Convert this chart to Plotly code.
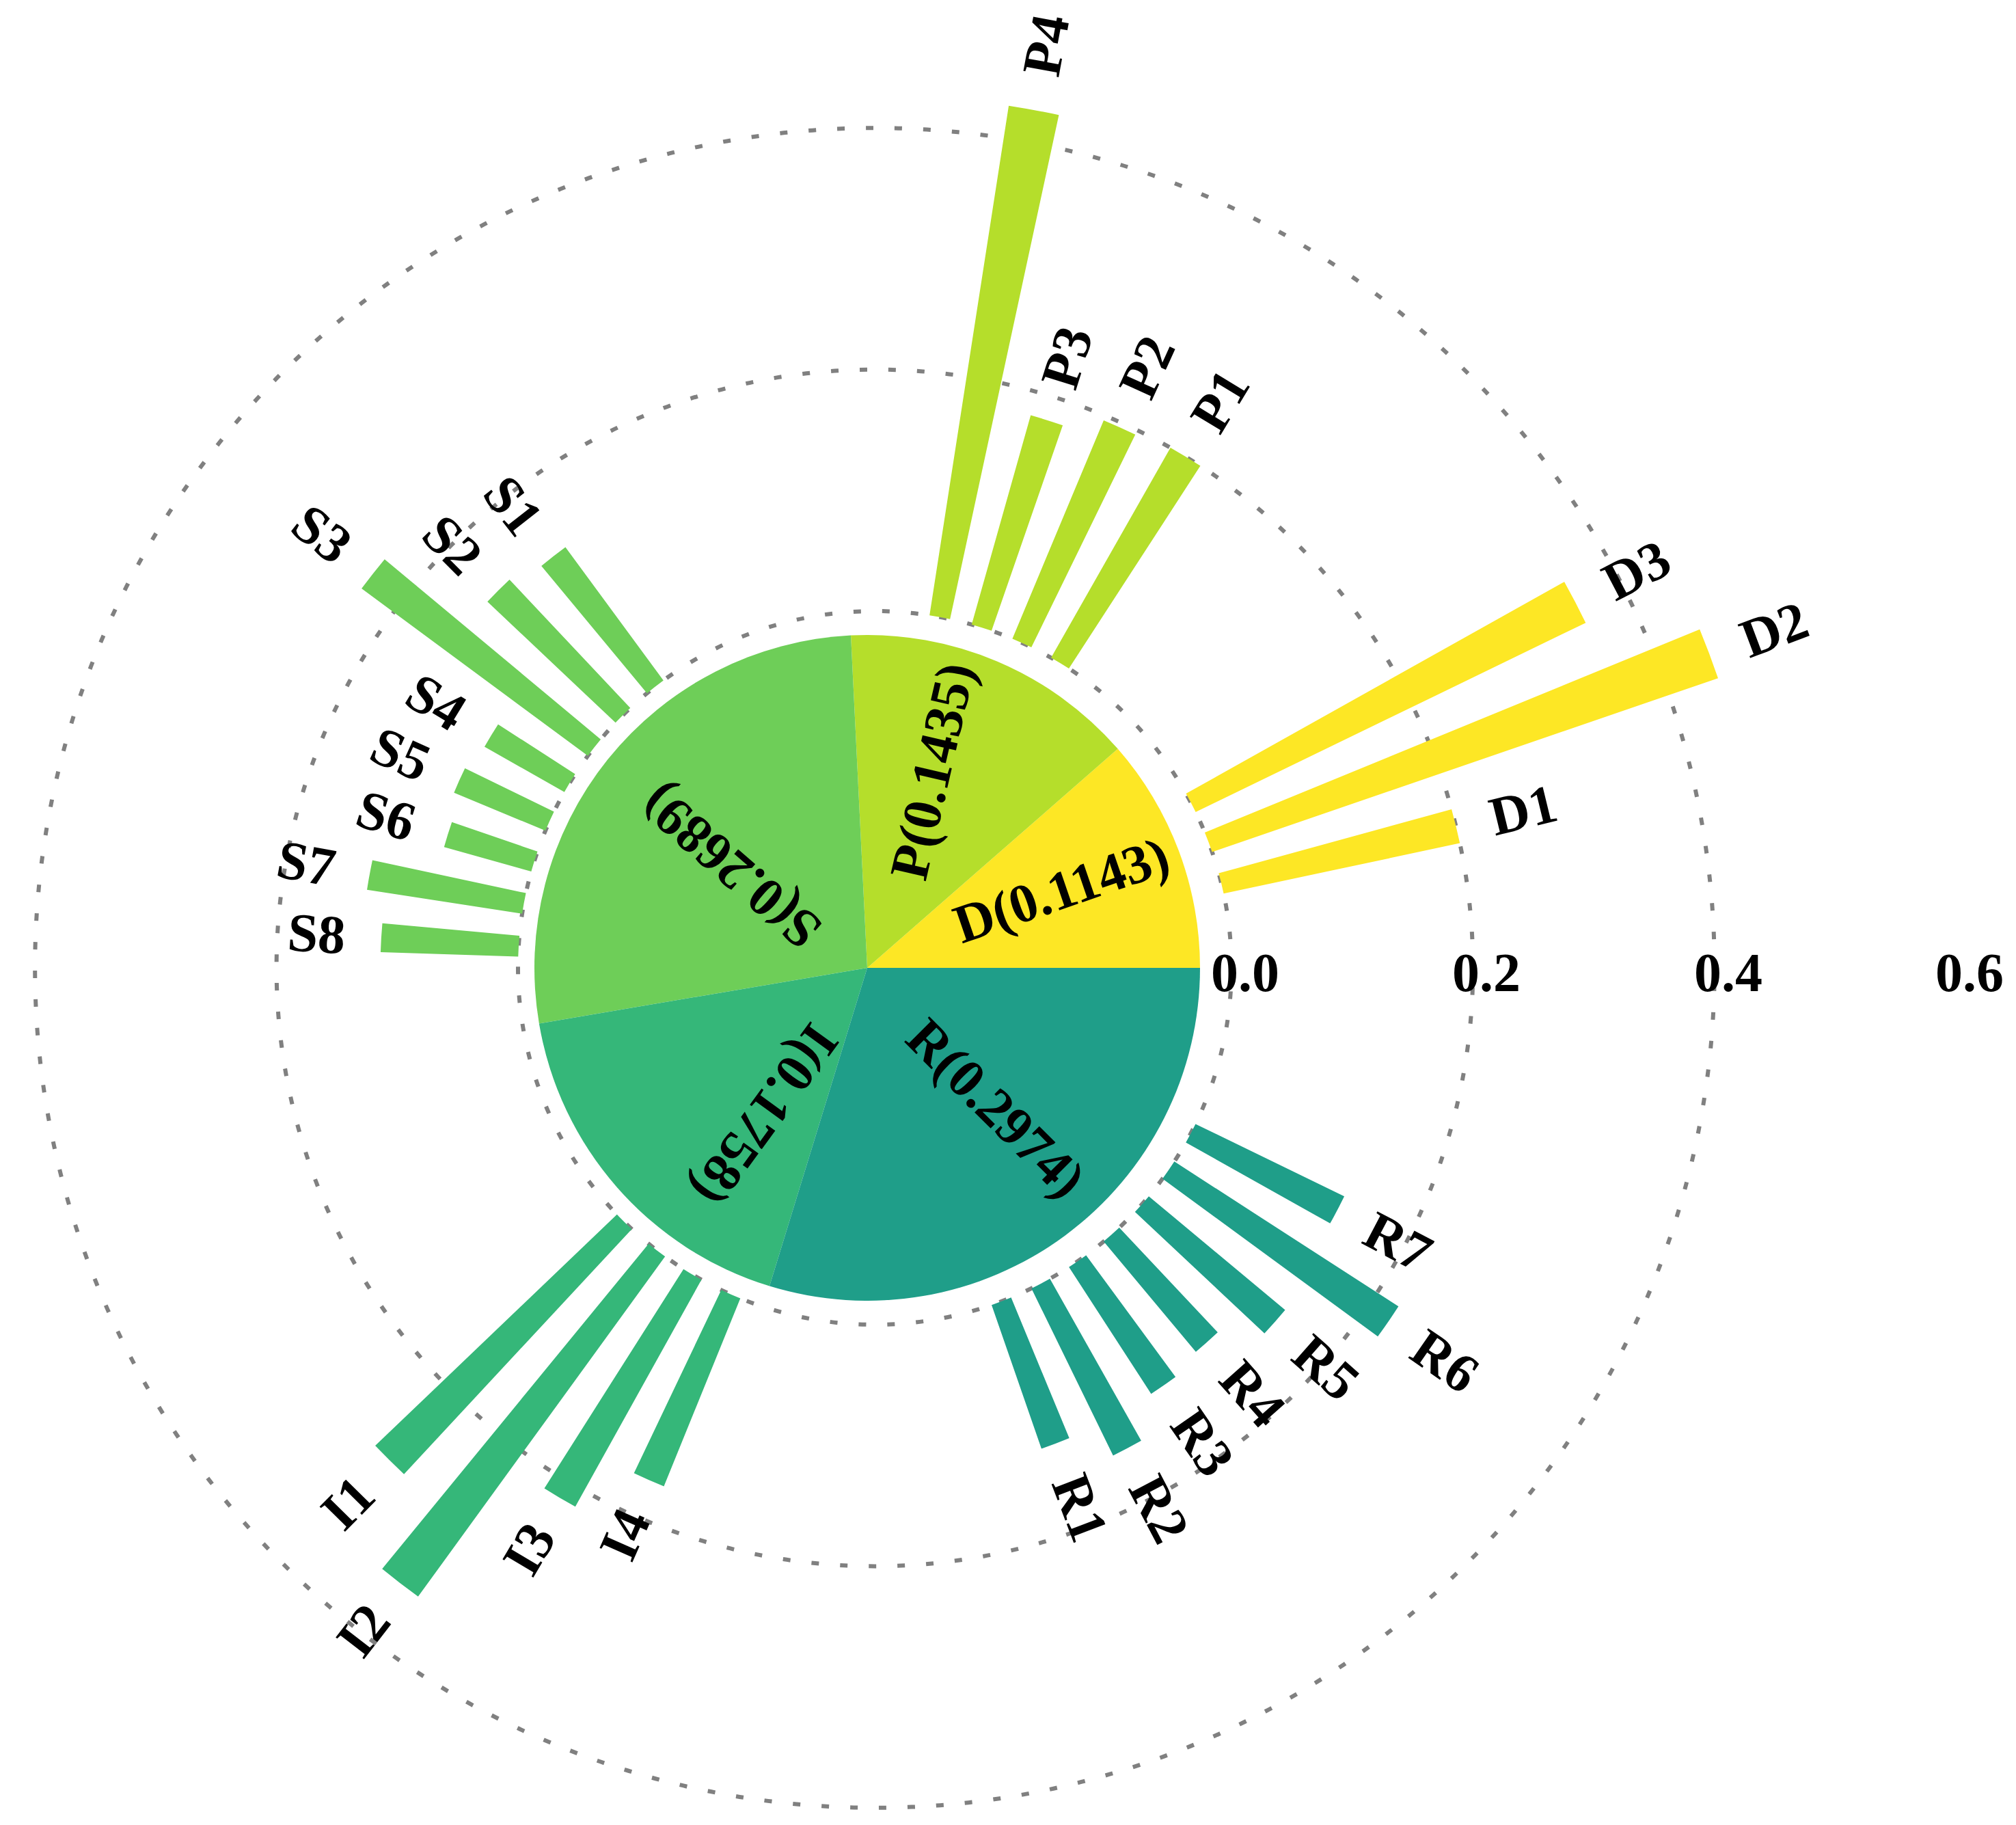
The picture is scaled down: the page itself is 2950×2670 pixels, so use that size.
import numpy as np
import plotly.graph_objects as go

# criteria layer (pie) and sub-criteria weights (bars)
groups = ["D", "P", "S", "I", "R"]
group_weights = [0.1143, 0.1435, 0.2689, 0.1758, 0.2974]
group_colors = ["#fde725", "#b5de2b", "#6ece58", "#35b779", "#1f9e89"]

d_values = [0.200, 0.443, 0.359]
p_values = [0.200, 0.196, 0.180, 0.427]
s_values = [0.137, 0.146, 0.233, 0.076, 0.082, 0.075, 0.130, 0.114]
i_values = [0.277, 0.348, 0.215, 0.168]
r_values = [0.126, 0.154, 0.125, 0.119, 0.147, 0.221, 0.137]

radial_ticks = [0.0, 0.2, 0.4, 0.6]

# ---- layout constants (pixels) ----
W, H = 2950, 2670
CX, CY = 1272, 1408          # centre of the radial grid
R0, PX_PER_UNIT = 522, 1767  # radius of value 0, px per unit of weight
R_MIN, R_MAX = -0.003, 0.403  # full-circle grid
R_MAX_Q = 0.47                # first-quadrant subplot (long D / P bars)
PIE_CX, PIE_R = 1261, 487
group_start = {"D": 13.7, "P": 58.7, "S": 128.0, "I": 225.4, "R": 290.8}
quadrant_groups = {"D", "P"}
STEP = 6.93
BAR_WIDTH = 3.35
FONT = "Liberation Serif"
FS = 80
LABEL_GAP = 52
char_w = {"D": .722, "P": .611, "S": .556, "I": .389, "R": .722}
# pie label placement: (radius px, angle deg, text direction deg)
pie_label_pos = [(306, 21.7, 19), (303, 71.6, 77), (248, 143.5, 139),
                 (262, 235.2, 234), (279, 312.6, 315)]


def to_paper(cx, cy, r, ang):
    a = np.deg2rad(ang)
    return (cx + r * np.cos(a)) / W, 1 - (cy - r * np.sin(a)) / H


def norm180(a):
    return (a + 180) % 360 - 180


outer = R0 + PX_PER_UNIT * R_MAX
hole = (R0 + PX_PER_UNIT * R_MIN) / outer
outer_q = R0 + PX_PER_UNIT * R_MAX_Q
hole_q = (R0 + PX_PER_UNIT * R_MIN) / outer_q

fig = go.Figure()

sub_values = [d_values, p_values, s_values, i_values, r_values]
annotations = []
for g, vals, col in zip(groups, sub_values, group_colors):
    thetas = [group_start[g] + STEP * k for k in range(len(vals))]
    fig.add_trace(go.Barpolar(
        r=vals, theta=thetas, width=BAR_WIDTH,
        marker=dict(color=col, line=dict(width=0)),
        hoverinfo="skip", showlegend=False,
        subplot="polar2" if g in quadrant_groups else "polar",
    ))
    for k, (v, th) in enumerate(zip(vals, thetas)):
        half = 0.5 * FS * (char_w[g] + 0.5)
        r = R0 + PX_PER_UNIT * v + LABEL_GAP + half
        x, y = to_paper(CX, CY, r, th)
        rot = norm180(th)
        if rot > 90 or rot <= -90:
            rot = norm180(rot - 180)
        annotations.append(dict(
            x=x, y=y, xref="paper", yref="paper", text=f"<b>{g}{k + 1}</b>",
            showarrow=False, xanchor="center", yanchor="middle", textangle=-rot,
            font=dict(family=FONT, size=FS, color="black"),
        ))

# centre pie
first_angle = group_weights[0] / sum(group_weights) * 360
fig.add_trace(go.Pie(
    values=group_weights, labels=groups, sort=False,
    direction="counterclockwise", rotation=90 - first_angle,
    marker=dict(colors=group_colors, line=dict(width=0)),
    textinfo="none", hoverinfo="skip", showlegend=False,
    domain=dict(x=[(PIE_CX - PIE_R) / W, (PIE_CX + PIE_R) / W],
                y=[(H - CY - PIE_R) / H, (H - CY + PIE_R) / H]),
))

for g, w, (pr, pa, pdir) in zip(groups, group_weights, pie_label_pos):
    x, y = to_paper(PIE_CX, CY, pr, pa)
    annotations.append(dict(
        x=x, y=y, xref="paper", yref="paper", text=f"<b>{g}({w:.4f})</b>",
        showarrow=False, xanchor="center", yanchor="middle",
        textangle=norm180(-pdir),
        font=dict(family=FONT, size=FS, color="black"),
    ))

for v in radial_ticks:
    x = (CX + R0 + PX_PER_UNIT * v + 20) / W
    annotations.append(dict(
        x=x, y=1 - 1415 / H, xref="paper", yref="paper", text=f"<b>{v:.1f}</b>",
        showarrow=False, xanchor="center", yanchor="middle",
        font=dict(family=FONT, size=FS, color="black"),
    ))

hidden_angular = dict(showticklabels=False, ticks="", showline=False,
                      showgrid=False, rotation=0, direction="counterclockwise")

fig.update_layout(
    width=W, height=H, autosize=False,
    margin=dict(l=0, r=0, t=0, b=0),
    paper_bgcolor="white", plot_bgcolor="white",
    template="none",
    polar=dict(
        domain=dict(x=[(CX - outer) / W, (CX + outer) / W],
                    y=[(H - CY - outer) / H, (H - CY + outer) / H]),
        hole=hole,
        bgcolor="rgba(0,0,0,0)",
        radialaxis=dict(range=[R_MIN, R_MAX], tickvals=radial_ticks[:3],
                        showticklabels=False, ticks="", showline=False,
                        showgrid=True, gridcolor="#808080", gridwidth=6,
                        griddash="11px,31px"),
        angularaxis=hidden_angular,
    ),
    polar2=dict(
        sector=[0, 90],
        domain=dict(x=[CX / W, (CX + outer_q) / W],
                    y=[(H - CY) / H, (H - CY + outer_q) / H]),
        hole=hole_q,
        bgcolor="rgba(0,0,0,0)",
        radialaxis=dict(range=[R_MIN, R_MAX_Q], showticklabels=False, ticks="",
                        showline=False, showgrid=False),
        angularaxis=hidden_angular,
    ),
    annotations=annotations,
    hovermode=False,
)

fig.write_html("out.html", config={"displayModeBar": False})
